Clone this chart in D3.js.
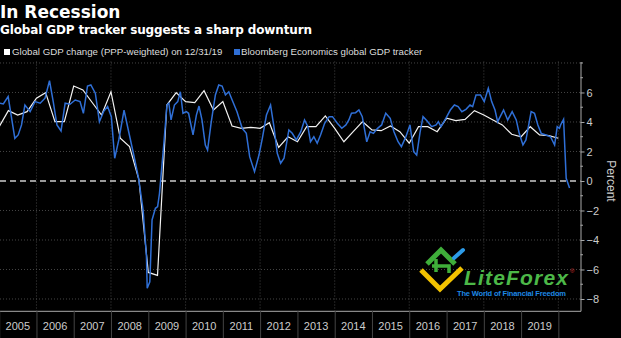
<!DOCTYPE html>
<html>
<head>
<meta charset="utf-8">
<script src="https://cdn.jsdelivr.net/npm/d3@7"></script>
<style>
  html, body { margin: 0; padding: 0; background: #000; }
  svg { display: block; }
</style>
</head>
<body>
<svg id="chart" width="621" height="338"></svg>
<script>
// quarterly global GDP change, PPP-weighted (from Q1 2005)
const gdpStartYear = 2005;
const gdpValues = [
  3.68, 4.77, 4.47, 4.70,
  5.61, 5.99, 4.02, 4.02,
  6.44, 6.17, 5.32, 4.47,
  6.05, 2.90, 2.33, 0.07,
  -6.20, -6.40, 5.15, 5.99,
  5.38, 5.31, 6.12, 4.81,
  5.38, 3.73, 3.57, 3.64,
  3.57, 3.95, 2.28, 3.00,
  2.66, 3.68, 3.68, 4.41,
  3.57, 2.66, 3.34, 4.02,
  3.46, 3.41, 3.73, 3.34,
  2.56, 3.68, 3.68, 3.34,
  4.25, 4.09, 4.18, 4.77,
  4.47, 4.14, 3.80, 3.17,
  3.00, 3.68, 3.12, 3.07,
  2.90
];

// Bloomberg Economics tracker, time in decimal years
const trackerTime = [
  2005.02, 2005.11, 2005.24, 2005.42, 2005.51, 2005.60, 2005.69, 2005.83, 2005.96,
  2006.10, 2006.23, 2006.35, 2006.45, 2006.55, 2006.66, 2006.77, 2006.90,
  2007.04, 2007.17, 2007.26, 2007.37, 2007.46, 2007.58, 2007.69, 2007.80, 2007.91,
  2008.01, 2008.10, 2008.21, 2008.35, 2008.47, 2008.61, 2008.74, 2008.86, 2008.95, 2008.97,
  2009.04, 2009.10, 2009.19, 2009.25, 2009.30, 2009.41, 2009.50, 2009.55, 2009.61, 2009.70, 2009.79, 2009.86, 2009.93,
  2010.02, 2010.08, 2010.20, 2010.29, 2010.36, 2010.44, 2010.53, 2010.59, 2010.69, 2010.80, 2010.89, 2010.98,
  2011.07, 2011.16, 2011.25, 2011.38, 2011.52, 2011.63, 2011.72, 2011.85, 2011.97,
  2012.06, 2012.17, 2012.28, 2012.37, 2012.46, 2012.55, 2012.64, 2012.77, 2012.86, 2012.97,
  2013.09, 2013.19, 2013.28, 2013.35, 2013.44, 2013.53, 2013.62, 2013.73, 2013.85, 2013.94,
  2014.07, 2014.19, 2014.30, 2014.38, 2014.45, 2014.56, 2014.65, 2014.74, 2014.86, 2014.95,
  2015.04, 2015.15, 2015.26, 2015.37, 2015.49, 2015.59, 2015.70, 2015.79, 2015.91,
  2016.02, 2016.12, 2016.20, 2016.29, 2016.37, 2016.48, 2016.60, 2016.72, 2016.78, 2016.85, 2016.98,
  2017.10, 2017.21, 2017.31, 2017.41, 2017.52, 2017.63, 2017.70, 2017.79, 2017.91,
  2018.01, 2018.12, 2018.21, 2018.30, 2018.37, 2018.46, 2018.53, 2018.64, 2018.76, 2018.87, 2018.95,
  2019.05, 2019.13, 2019.27, 2019.36, 2019.45, 2019.54, 2019.67, 2019.79, 2019.90, 2019.97,
  2020.03, 2020.06, 2020.14, 2020.21, 2020.30
];
const trackerValue = [
  5.27, 5.22, 5.72, 2.89, 3.12, 3.80, 5.15, 4.70, 5.38,
  5.27, 5.61, 6.80, 5.38, 3.80, 3.39, 5.27, 5.20,
  5.49, 5.38, 4.59, 6.44, 6.51, 5.95, 4.02, 4.70, 5.05,
  4.36, 1.54, 2.78, 4.81, 3.39, 1.76, 0.18, -1.97, -5.13, -7.27,
  -6.83, -2.64, -1.85, -1.74, -0.83, 2.33, 5.15, 5.27, 4.14, 5.15, 5.38, 6.05, 4.59,
  4.70, 4.59, 3.12, 4.47, 5.08, 4.14, 2.44, 2.10, 4.02, 5.83, 6.51, 6.44,
  5.83, 6.05, 5.49, 4.70, 3.57, 3.23, 1.65, 0.63, 1.76,
  2.89, 4.47, 5.15, 3.68, 1.88, 1.20, 1.54, 3.46, 3.23, 2.78,
  3.34, 4.14, 3.68, 2.66, 3.00, 2.56, 3.12, 3.91, 4.36, 4.36,
  3.91, 3.57, 3.80, 4.14, 4.59, 4.63, 4.81, 4.36, 2.66, 3.34,
  3.23, 3.57, 3.80, 4.59, 4.25, 3.34, 2.66, 2.33, 3.00,
  3.80, 1.99, 1.76, 3.29, 4.36, 4.07, 3.68, 3.80, 4.02, 3.68, 4.25,
  4.81, 5.15, 5.04, 4.70, 4.86, 5.15, 5.04, 5.83, 5.83,
  5.38, 6.28, 5.38, 4.81, 4.02, 4.47, 4.81, 4.14, 4.70, 4.14, 3.23,
  2.44, 2.78, 4.70, 4.59, 3.80, 3.23, 3.12, 3.00, 2.44, 3.68,
  3.57, 3.80, 4.18, 0.18, -0.47
];

const years = d3.range(2005, 2020);
const yTicks = [-8, -6, -4, -2, 0, 2, 4, 6];

const svg = d3.select("#chart");
const plotLeft = 0, plotRight = 580.5, plotTop = 61.5, plotBottom = 310.8;

function decimalToDate(t) {
  const y = Math.floor(t);
  const a = new Date(y, 0, 1), b = new Date(y + 1, 0, 1);
  return new Date(a.getTime() + (t - y) * (b - a));
}

const xScale = d3.scaleTime()
  .domain([new Date(2005, 0, 1), decimalToDate(2020.593)])
  .range([-0.8, plotRight]);
const yScale = d3.scaleLinear().domain([-8.8, 8.1]).range([plotBottom, plotTop]);

svg.append("rect").attr("width", 621).attr("height", 338).attr("fill", "#000");

// titles
svg.append("text")
  .attr("x", 0).attr("y", 18)
  .attr("fill", "#fff")
  .attr("font-family", "DejaVu Sans")
  .attr("font-weight", "bold")
  .attr("font-size", "17px")
  .text("In Recession");
svg.append("text")
  .attr("x", 0).attr("y", 34)
  .attr("fill", "#fff")
  .attr("font-family", "DejaVu Sans")
  .attr("font-weight", "bold")
  .attr("font-size", "12px")
  .attr("textLength", 312)
  .text("Global GDP tracker suggests a sharp downturn");

// legend
const legend = svg.append("g").attr("font-family", "Liberation Sans").attr("font-size", "9.7px").attr("fill", "#ddd");
legend.append("rect").attr("x", 4).attr("y", 49).attr("width", 6).attr("height", 6).attr("fill", "#fff");
legend.append("text").attr("x", 12).attr("y", 55).text("Global GDP change (PPP-weighted) on 12/31/19");
legend.append("rect").attr("x", 234).attr("y", 49).attr("width", 6).attr("height", 6).attr("fill", "#2f6fd6");
legend.append("text").attr("x", 241).attr("y", 55).text("Bloomberg Economics global GDP tracker");

const g = svg.append("g");

// dotted grid
g.selectAll(".hgrid")
  .data([-8, -6, -4, -2, 2, 4, 6, 8])
  .enter()
  .append("line")
  .attr("x1", plotLeft).attr("x2", plotRight)
  .attr("y1", (d) => yScale(d)).attr("y2", (d) => yScale(d))
  .attr("stroke", "#555").attr("stroke-width", 0.8).attr("stroke-dasharray", "1,2");
g.selectAll(".vgrid")
  .data(d3.range(2006, 2021, 2))
  .enter()
  .append("line")
  .attr("x1", (d) => xScale(new Date(d, 0, 1))).attr("x2", (d) => xScale(new Date(d, 0, 1)))
  .attr("y1", plotTop).attr("y2", plotBottom)
  .attr("stroke", "#555").attr("stroke-width", 0.8).attr("stroke-dasharray", "1,2");

// zero line
g.append("line")
  .attr("x1", plotLeft).attr("x2", plotRight)
  .attr("y1", yScale(0)).attr("y2", yScale(0))
  .attr("stroke", "#ccc").attr("stroke-width", 1.3).attr("stroke-dasharray", "6,4");

// x axis: year separators with labels in between
const xAxis = g.append("g")
  .attr("transform", "translate(0," + plotBottom + ")")
  .call(d3.axisBottom(xScale)
    .tickValues(d3.range(2005, 2021).map((d) => new Date(d, 0, 1)))
    .tickSize(28)
    .tickSizeOuter(0)
    .tickFormat(""));
xAxis.select(".domain").attr("stroke", "#aaa");
xAxis.selectAll(".tick line").attr("stroke", "#444");
g.selectAll(".year")
  .data(years)
  .enter()
  .append("text")
  .attr("x", (d) => xScale(new Date(d, 6, 2)))
  .attr("y", 330)
  .attr("text-anchor", "middle")
  .attr("fill", "#ccc")
  .attr("font-family", "Liberation Sans")
  .attr("font-size", "11px")
  .text((d) => d);

// y axis on the right
const yAxis = g.append("g")
  .attr("transform", "translate(" + plotRight + ",0)")
  .call(d3.axisRight(yScale).tickValues(yTicks).tickSize(4).tickSizeOuter(0).tickPadding(2));
yAxis.select(".domain").attr("stroke", "#aaa");
yAxis.selectAll(".tick line").attr("stroke", "#aaa");
yAxis.selectAll(".tick text")
  .attr("fill", "#ccc")
  .attr("font-family", "Liberation Sans")
  .attr("font-size", "11px");
g.selectAll(".minor")
  .data([-7, -5, -3, -1, 1, 3, 5, 7, 8])
  .enter()
  .append("line")
  .attr("x1", plotRight).attr("x2", plotRight + 2.5)
  .attr("y1", (d) => yScale(d)).attr("y2", (d) => yScale(d))
  .attr("stroke", "#aaa");
svg.append("text")
  .attr("transform", "translate(607," + yScale(0) + ") rotate(90)")
  .attr("text-anchor", "middle")
  .attr("fill", "#ccc")
  .attr("font-family", "Liberation Sans")
  .attr("font-size", "12px")
  .text("Percent");

// watermark
const logo = svg.append("g");
logo.append("path").attr("d", "M421,270 L440,289 L462,268").attr("fill", "none").attr("stroke", "#f2c200").attr("stroke-width", 5);
logo.append("path").attr("d", "M427,264 L441,250 L455,264").attr("fill", "none").attr("stroke", "#3fae3a").attr("stroke-width", 5);
logo.append("path").attr("d", "M436,272 L436,259 M432,266 L449,266 L449,273").attr("fill", "none").attr("stroke", "#3fae3a").attr("stroke-width", 3.5);
logo.append("path").attr("d", "M454,258 L463,250").attr("fill", "none").attr("stroke", "#2d9be8").attr("stroke-width", 4).attr("stroke-linecap", "round");
logo.append("text").attr("x", 464).attr("y", 285)
  .attr("font-family", "Liberation Sans").attr("font-weight", "bold").attr("font-style", "italic").attr("font-size", "21px")
  .attr("fill", "#4cb848").attr("textLength", 104)
  .text("LiteForex");
logo.append("text").attr("x", 570).attr("y", 273).attr("font-family", "Liberation Sans").attr("font-size", "6px").attr("fill", "#d32f2f").text("®");
logo.append("text").attr("x", 457).attr("y", 295.5)
  .attr("font-family", "Liberation Sans").attr("font-weight", "bold").attr("font-size", "7.5px").attr("fill", "#1e88e5")
  .attr("textLength", 109)
  .text("The World of Financial Freedom");

// lines
const gdpLine = d3.line()
  .x((d, i) => xScale(new Date(gdpStartYear, i * 3, 1)))
  .y((d) => yScale(d));
g.append("path")
  .datum(gdpValues)
  .attr("fill", "none")
  .attr("stroke", "#f2f2f2")
  .attr("stroke-width", 1.2)
  .attr("d", gdpLine);

const trackerLine = d3.line()
  .x((d, i) => xScale(decimalToDate(trackerTime[i])))
  .y((d) => yScale(d));
g.append("path")
  .datum(trackerValue)
  .attr("fill", "none")
  .attr("stroke", "#2f6fd6")
  .attr("stroke-width", 1.5)
  .attr("d", trackerLine);
</script>
</body>
</html>
